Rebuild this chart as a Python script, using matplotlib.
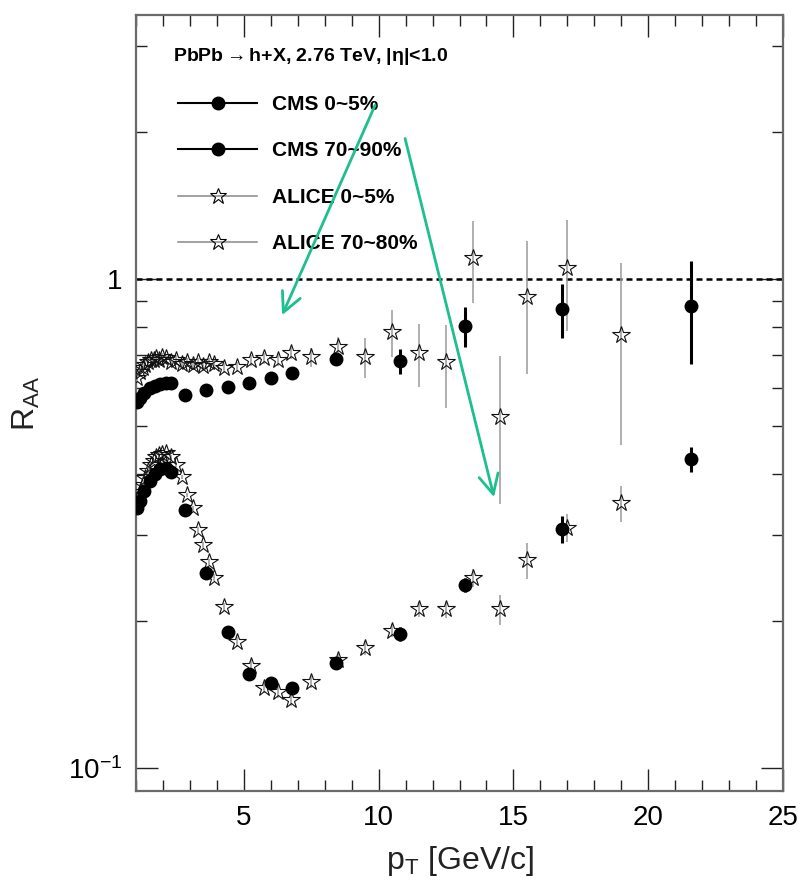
import numpy as np
import matplotlib
matplotlib.use('Agg')
import matplotlib.pyplot as plt
from matplotlib.lines import Line2D

plt.rcParams['font.family'] = ['Liberation Sans', 'DejaVu Sans']
plt.rcParams['mathtext.fontset'] = 'custom'
plt.rcParams['mathtext.rm'] = 'Liberation Sans'
plt.rcParams['mathtext.it'] = 'Liberation Sans:italic'
plt.rcParams['mathtext.bf'] = 'Liberation Sans:bold'

# CMS bins (pT in GeV/c)
pt_cms = [1.05, 1.15, 1.3, 1.5, 1.7, 1.9, 2.1, 2.3, 2.8, 3.6, 4.4, 5.2, 6.0, 6.8, 8.4, 10.8, 13.2, 16.8, 21.6]
raa_cms_central = [0.340, 0.352, 0.368, 0.386, 0.400, 0.408, 0.410, 0.404, 0.337, 0.251, 0.190, 0.156,
                   0.149, 0.146, 0.164, 0.188, 0.237, 0.308, 0.428]
err_cms_central = [0.004, 0.004, 0.004, 0.004, 0.004, 0.004, 0.004, 0.004, 0.004, 0.004, 0.004, 0.004,
                   0.004, 0.004, 0.005, 0.006, 0.008, 0.02, 0.025]
raa_cms_periph = [0.560, 0.572, 0.585, 0.598, 0.605, 0.611, 0.613, 0.613, 0.579, 0.593, 0.601, 0.613,
                  0.627, 0.642, 0.686, 0.680, 0.801, 0.868, 0.881]
err_cms_periph = [0.006, 0.006, 0.006, 0.006, 0.006, 0.006, 0.006, 0.006, 0.006, 0.006, 0.008, 0.008,
                  0.01, 0.012, 0.02, 0.04, 0.075, 0.11, 0.21]

# ALICE bins
pt_alice = [1.05, 1.15, 1.25, 1.35, 1.45, 1.55, 1.65, 1.75, 1.85, 1.95,
            2.1, 2.3, 2.5, 2.7, 2.9, 3.1, 3.3, 3.5, 3.7, 3.9,
            4.25, 4.75, 5.25, 5.75, 6.25, 6.75,
            7.5, 8.5, 9.5, 10.5, 11.5, 12.5, 13.5, 14.5,
            15.5, 17.0, 19.0]
raa_alice_central = [0.353, 0.367, 0.379, 0.392, 0.405, 0.417, 0.425, 0.433, 0.437, 0.439,
                     0.440, 0.433, 0.417, 0.394, 0.362, 0.340, 0.307, 0.286, 0.264, 0.245,
                     0.213, 0.181, 0.162, 0.146, 0.143, 0.138,
                     0.150, 0.166, 0.176, 0.191, 0.211, 0.211, 0.245, 0.211,
                     0.266, 0.310, 0.348]
err_alice_central = [0.004] * 26 + [0.004, 0.005, 0.006, 0.006, 0.007, 0.008, 0.01, 0.015,
                                    0.022, 0.02, 0.03]
raa_alice_periph = [0.627, 0.645, 0.658, 0.667, 0.676, 0.683, 0.683, 0.689, 0.683, 0.692,
                    0.689, 0.676, 0.683, 0.670, 0.676, 0.667, 0.676, 0.664, 0.676, 0.670,
                    0.658, 0.661, 0.683, 0.689, 0.683, 0.706,
                    0.692, 0.726, 0.692, 0.779, 0.706, 0.676, 1.104, 0.522,
                    0.919, 1.053, 0.768]
err_alice_periph = [0.015] * 20 + [0.015, 0.015, 0.018, 0.018, 0.02, 0.02,
                                   0.03, 0.035, 0.065, 0.085, 0.105, 0.13, 0.21, 0.175,
                                   0.28, 0.27, 0.31]

labels = ['CMS 0~5%', 'CMS 70~90%', 'ALICE 0~5%', 'ALICE 70~80%']
header = r'PbPb$\mathbf{\rightarrow}$h+X, 2.76 TeV, |$\mathbf{\eta}$|<1.0'

# Arrows drawn over the figure (tail, head) in data units
arrow1 = ((9.87, 2.27), (6.42, 0.844))
arrow2 = ((10.98, 1.94), (14.28, 0.358))
arrow_color = '#1dbf8f'

fig = plt.figure(figsize=(8.04, 8.94), dpi=100)
ax = fig.add_axes([0.1692, 0.1152, 0.8047, 0.868])
ax.set_yscale('log')

alice_style = dict(fmt='*', ms=13, mfc='none', mec='#111111', mew=0.8,
                   ecolor='#9a9a9a', elinewidth=1.1, capsize=0, zorder=3)
ax.errorbar(pt_alice, raa_alice_central, yerr=err_alice_central, **alice_style)
ax.errorbar(pt_alice, raa_alice_periph, yerr=err_alice_periph, **alice_style)

cms_style = dict(fmt='o', ms=9, color='black', ecolor='black', elinewidth=2.2,
                 capsize=0, zorder=4)
ax.errorbar(pt_cms, raa_cms_central, yerr=err_cms_central, **cms_style)
ax.errorbar(pt_cms, raa_cms_periph, yerr=err_cms_periph, **cms_style)

ax.axhline(1.0, color='black', lw=1.8, ls=(0, (2.4, 1.6)), zorder=2)

ax.set_xlim(1, 25)
ax.set_ylim(0.0897, 3.47)
ax.set_xticks([5, 10, 15, 20, 25])
ax.set_xticks(np.arange(1, 26), minor=True)
ax.set_yticks([0.1, 1])
ax.set_yticklabels([r'$\mathregular{10^{-1}}$', '1'])
ax.set_yticks([0.2, 0.3, 0.4, 0.5, 0.6, 0.7, 0.8, 0.9, 2, 3], minor=True)
ax.yaxis.set_minor_formatter(matplotlib.ticker.NullFormatter())
ax.tick_params(which='both', direction='in', top=True, right=True,
               color='#222222', width=1.0, labelsize=20, pad=10)
ax.tick_params(which='major', length=16)
ax.tick_params(which='minor', length=8)
for s in ax.spines.values():
    s.set_color('#6a6a6a')
    s.set_linewidth(1.6)

ax.set_xlabel(r'p$_\mathregular{T}$ [GeV/c]', fontsize=23, color='#222222')
ax.xaxis.set_label_coords(0.5, -0.068)
ax.set_ylabel(r'R$_\mathregular{AA}$', fontsize=23, color='#222222')
ax.yaxis.set_label_coords(-0.145, 0.5)

ax.text(0.057, 0.946, header, transform=ax.transAxes, fontsize=14,
        fontweight='bold', va='center', ha='left')

handles = [
    Line2D([], [], color='black', lw=1.5, marker='o', ms=9),
    Line2D([], [], color='black', lw=1.5, marker='o', ms=9),
    Line2D([], [], color='#888888', lw=1.1, marker='*', ms=12, mfc='none', mec='black', mew=0.8),
    Line2D([], [], color='#888888', lw=1.1, marker='*', ms=12, mfc='none', mec='black', mew=0.8),
]
leg = ax.legend(handles, labels, loc='upper left', bbox_to_anchor=(0.065, 0.897),
                frameon=False, fontsize=15, handlelength=3.8, handletextpad=0.7,
                labelspacing=1.32, borderpad=0, borderaxespad=0)
for t in leg.get_texts():
    t.set_fontweight('bold')

for tail, head in (arrow1, arrow2):
    ax.annotate('', xy=head, xytext=tail,
                arrowprops=dict(arrowstyle='->,head_length=0.7,head_width=0.35',
                                color=arrow_color, lw=2.0, shrinkA=0, shrinkB=0,
                                mutation_scale=20), zorder=6)

fig.savefig('out.png', dpi=100)
